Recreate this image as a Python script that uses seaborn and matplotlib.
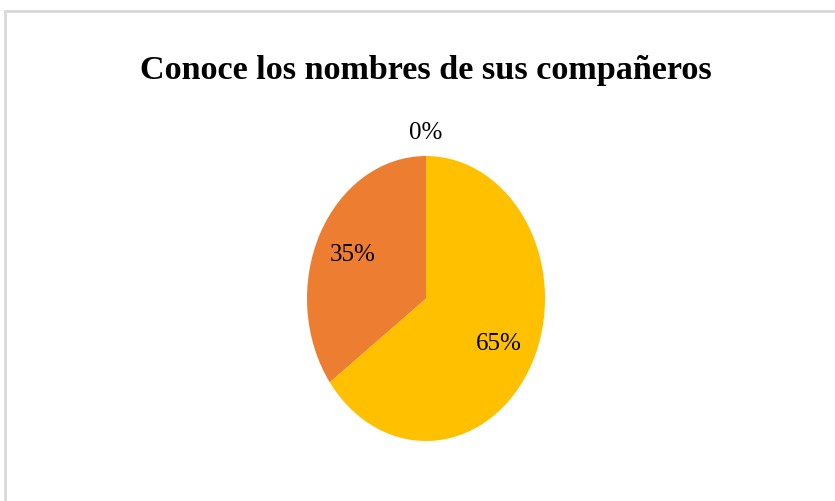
import numpy as np
import matplotlib
matplotlib.use("Agg")
import matplotlib.pyplot as plt
import seaborn as sns
from matplotlib.patches import Rectangle

# --- data ---
categories = ["Sí", "No", "No responde"]
percentages = [65, 35, 0]
slice_colors = ["#FFC000", "#ED7D31", "#A5A5A5"]
title = "Conoce los nombres de sus compañeros"

sns.set_style("white")
plt.rcParams["font.family"] = ["Liberation Serif", "DejaVu Serif"]

W, H = 835, 502
fig = plt.figure(figsize=(W / 100, H / 100), dpi=100)
fig.patch.set_facecolor("white")

# light grey chart frame (right and bottom edges are cut off in the original)
fig.patches.append(Rectangle((5 / W, -0.1), 1.2, (H - 12) / H + 0.1,
                             transform=fig.transFigure, fill=False,
                             edgecolor="#D9D9D9", linewidth=2))

fig.text(426 / W, (H - 79) / H, title, ha="center", va="baseline",
         fontsize=24.6, fontweight="bold", color="black")

# the pie is drawn stretched vertically, so the axes is not square
ax = fig.add_axes([307 / W, (H - 442) / H, 238 / W, 285 / H])
wedges, _ = ax.pie(percentages, colors=slice_colors, startangle=90,
                   counterclock=False, radius=1,
                   wedgeprops=dict(linewidth=0))
ax.set_aspect("auto")
ax.set_xlim(-1, 1)
ax.set_ylim(-1, 1)
ax.axis("off")

# percentage labels: inside the slice, or above the pie for an empty slice
total = sum(percentages)
start = 90.0
for val in percentages:
    sweep = 360.0 * val / total
    mid = np.deg2rad(start - sweep / 2)
    dist = 0.69 if val > 0 else 1.17
    ax.text(dist * np.cos(mid), dist * np.sin(mid), f"{val}%",
            ha="center", va="center", fontsize=18, color="black")
    start -= sweep

fig.savefig("out.png", dpi=100, facecolor="white")
